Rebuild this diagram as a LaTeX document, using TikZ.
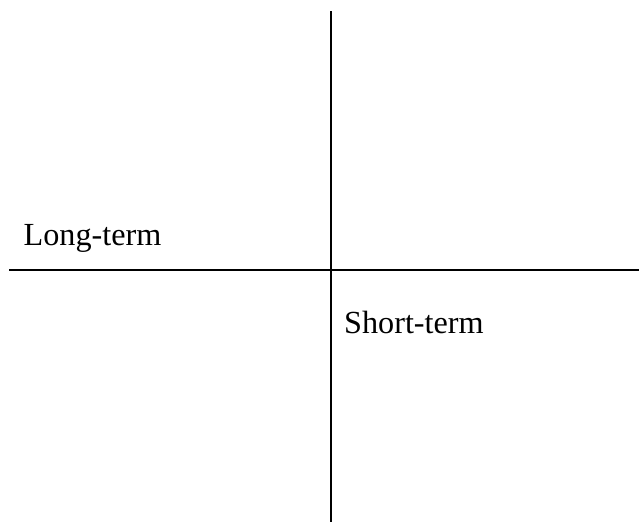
\documentclass[tikz,border=0pt]{standalone}
\usepackage{fontspec}
\setmainfont{Liberation Serif}
\begin{document}
\begin{tikzpicture}[x=1pt,y=-1pt,
  axis/.style={line width=2.2pt,black},
  lbl/.style={anchor=base west,inner sep=0pt,font=\fontsize{32.2}{36}\selectfont}]
\useasboundingbox (0,0) rectangle (639,522);
\coordinate (vtop) at (330.7,11);
\coordinate (vbot) at (330.7,522);
\coordinate (hleft) at (9,270);
\coordinate (hright) at (639,270);
\draw[axis] (vtop) -- (vbot);
\draw[axis] (hleft) -- (hright);
\node[lbl] (long) at (23.5,245.7) {Long-term};
\node[lbl] (short) at (344,333) {Short-term};
\end{tikzpicture}
\end{document}
